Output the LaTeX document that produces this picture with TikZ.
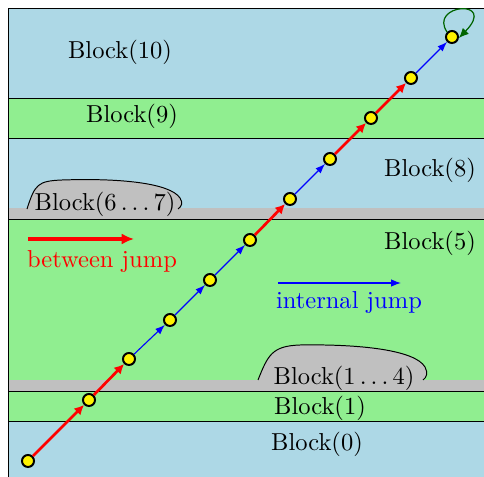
\documentclass[tikz,border=0pt]{standalone}
\usetikzlibrary{arrows.meta}
\definecolor{bblue}{RGB}{173,216,230}
\definecolor{bgreen}{RGB}{144,238,144}
\definecolor{bgray}{RGB}{192,192,192}
\definecolor{loopgreen}{RGB}{0,100,0}
\begin{document}
\begin{tikzpicture}[x=0.408pt,y=-0.408pt,
  border/.style={draw=black, line width=0.4pt},
  pt/.style={circle, fill=yellow, draw=black, line width=0.8pt, minimum size=4.9pt, inner sep=0pt},
  betw/.style={red, line width=1.1pt, -{Latex[length=4pt,width=4pt]}},
  intern/.style={blue, line width=0.45pt, -{Latex[length=4pt,width=3pt]}},
  lbl/.style={inner sep=0pt, anchor=center},
  bubble/.style={draw=black, line width=0.4pt, fill=bgray}
]
\useasboundingbox (0,0) rectangle (484,477);
\clip (0,0) rectangle (484,477);
% bands
\fill[bblue]  (8,8)   rectangle (500,98);
\fill[bgreen] (8,98)  rectangle (500,138);
\fill[bblue]  (8,138) rectangle (500,219);
\fill[bgreen] (8,219) rectangle (500,391);
\fill[bgreen] (8,391) rectangle (500,421);
\fill[bblue]  (8,421) rectangle (500,490);
% gray strips
\fill[bgray] (8,208) rectangle (500,219);
\fill[bgray] (8,380) rectangle (500,391);
% borders
\draw[border] (8,8) rectangle (500,98);
\draw[border] (8,98) rectangle (500,138);
\draw[border] (8,138) rectangle (500,219);
\draw[border] (8,219) rectangle (500,391);
\draw[border] (8,391) rectangle (500,421);
\draw[border] (8,421) rectangle (500,490);
% bubbles
\draw[bubble] (27,209) .. controls (35,184) and (38,181) .. (62,180) .. controls (120,178) and (170,183) .. (180,198) .. controls (183,203) and (182,206) .. (178,209);
\draw[bubble] (258,380) .. controls (268,355) and (272,346) .. (300,345) .. controls (360,344) and (415,350) .. (425,367) .. controls (428,373) and (427,377) .. (423,380);
% labels
\node[lbl] (l10) at (120,52) {Block(10)};
\node[lbl] (l9) at (132,116) {Block(9)};
\node[lbl] (l8) at (430,170) {Block(8)};
\node[lbl] (l67) at (105,204) {Block($6\ldots7$)};
\node[lbl] (l5) at (430,243) {Block(5)};
\node[lbl] (l14) at (344,378) {Block($1\ldots4$)};
\node[lbl] (l1) at (320,408) {Block(1)};
\node[lbl] (l0) at (317,444) {Block(0)};
% legend
\coordinate (ra) at (28,239);
\coordinate (rb) at (134,239);
\draw[red, line width=1.8pt, -{Latex[length=5pt,width=4.5pt]}] (ra) -- (rb);
\node[lbl, text=red] (lb) at (102,262) {between jump};
\coordinate (ba) at (278,283);
\coordinate (bb) at (401,283);
\draw[intern] (ba) -- (bb);
\node[lbl, text=blue] (li) at (349,303) {internal jump};
% path
\node[pt] (n0) at (28,461) {};
\node[pt] (n1) at (89,400) {};
\node[pt] (n2) at (129,359) {};
\node[pt] (n3) at (170,320) {};
\node[pt] (n4) at (210,280) {};
\node[pt] (n5) at (250,240) {};
\node[pt] (n6) at (290,199) {};
\node[pt] (n7) at (330,159) {};
\node[pt] (n8) at (371,118) {};
\node[pt] (n9) at (411,78) {};
\node[pt] (n10) at (452,37) {};
\draw[betw] (n0) -- (n1);
\draw[betw] (n1) -- (n2);
\draw[intern] (n2) -- (n3);
\draw[intern] (n3) -- (n4);
\draw[intern] (n4) -- (n5);
\draw[betw] (n5) -- (n6);
\draw[intern] (n6) -- (n7);
\draw[betw] (n7) -- (n8);
\draw[betw] (n8) -- (n9);
\draw[intern] (n9) -- (n10);
\draw[loopgreen, line width=0.5pt, -{Latex[length=4pt,width=3.5pt]}] (n10.135) .. controls (428,4) and (498,-2) .. (n10.-8);
\end{tikzpicture}
\end{document}
